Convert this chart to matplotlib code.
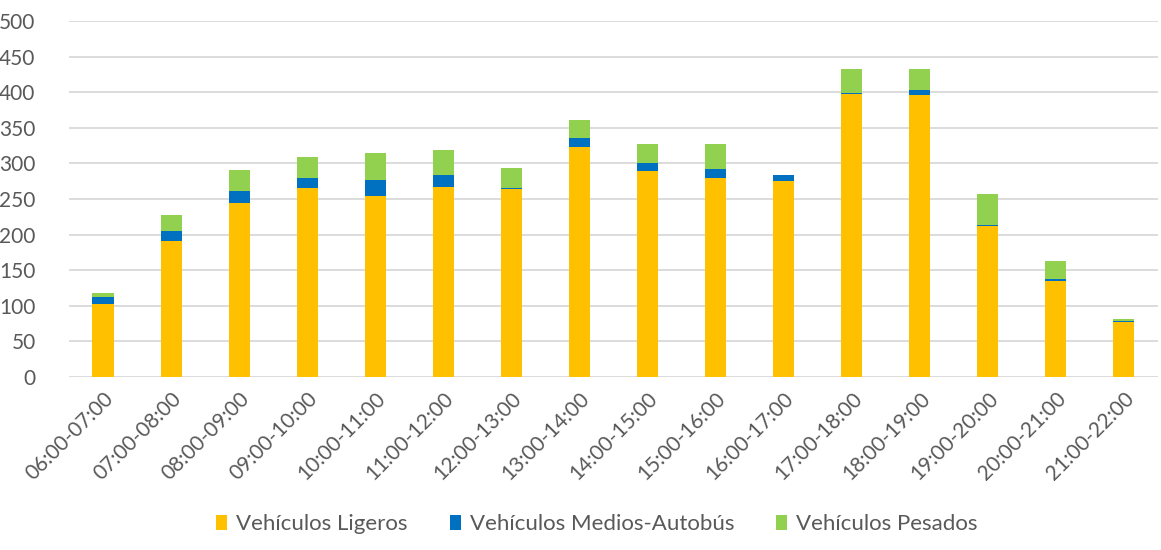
import matplotlib
matplotlib.use('Agg')
import matplotlib.pyplot as plt
import numpy as np

# franjas horarias
horas = ['06:00-07:00', '07:00-08:00', '08:00-09:00', '09:00-10:00',
         '10:00-11:00', '11:00-12:00', '12:00-13:00', '13:00-14:00',
         '14:00-15:00', '15:00-16:00', '16:00-17:00', '17:00-18:00',
         '18:00-19:00', '19:00-20:00', '20:00-21:00', '21:00-22:00']

ligeros = [103, 191, 244, 265, 254, 267, 264, 323, 289, 280, 275, 398, 396, 212, 135, 77]
medios = [9, 14, 17, 15, 23, 17, 1, 12, 11, 12, 8, 1, 7, 1, 2, 1]
pesados = [6, 22, 30, 29, 38, 35, 28, 26, 27, 35, 0, 33, 29, 44, 26, 3]

labels = ['Vehículos Ligeros', 'Vehículos Medios-Autobús', 'Vehículos Pesados']
colors = ['#FFC000', '#0070C0', '#92D050']

plt.rcParams['font.family'] = ['Lato', 'DejaVu Sans']

fig = plt.figure(figsize=(11.61, 5.5), dpi=100)
ax = fig.add_axes([0.0594, 0.3145, 0.938, 0.6475])

x = np.arange(len(horas))
w = 0.31
ligeros = np.array(ligeros)
medios = np.array(medios)
pesados = np.array(pesados)

ax.bar(x, ligeros, w, color=colors[0], label=labels[0], zorder=3)
ax.bar(x, medios, w, bottom=ligeros, color=colors[1], label=labels[1], zorder=3)
ax.bar(x, pesados, w, bottom=ligeros + medios, color=colors[2], label=labels[2], zorder=3)

ax.set_ylim(0, 500)
ax.set_xlim(-0.5, len(horas) - 0.5)
ax.set_yticks(range(0, 501, 50))
ax.yaxis.grid(True, color='#D9D9D9', linewidth=1.3, zorder=0)
for s in ax.spines.values():
    s.set_visible(False)
ax.tick_params(axis='both', length=0, labelsize=15, labelcolor='#595959')
ax.tick_params(axis='y', pad=24)
ax.set_xticks(x)
ax.set_xticklabels(horas, rotation=45, ha='right', rotation_mode='anchor')
ax.tick_params(axis='x', pad=8)

fig.legend(loc='lower center', bbox_to_anchor=(0.514, -0.008), ncol=3, frameon=False,
           fontsize=16, labelcolor='#595959', handlelength=0.5, handleheight=0.7,
           columnspacing=1.9, handletextpad=0.4)

fig.savefig('out.png', dpi=100)
